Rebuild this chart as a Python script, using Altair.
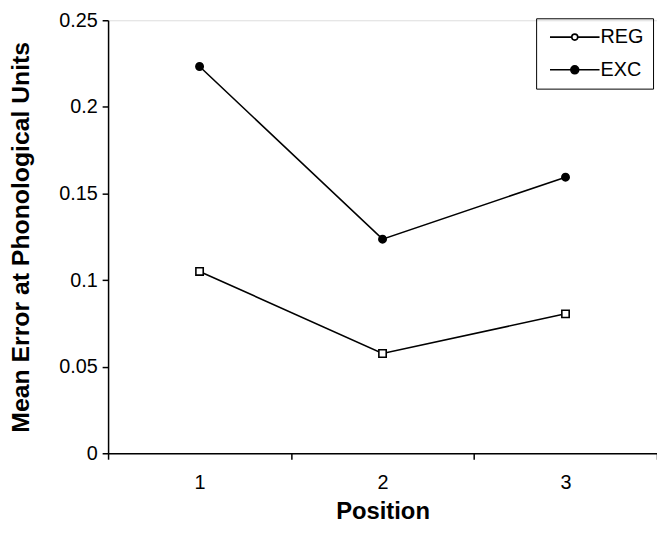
import altair as alt
import pandas as pd

positions = ["1", "2", "3"]
reg_values = [0.105, 0.0576, 0.0805]
exc_values = [0.2233, 0.1236, 0.1594]
series_names = ["REG", "EXC"]
y_ticks = [0, 0.05, 0.1, 0.15, 0.2, 0.25]

rows = []
for name, vals in zip(series_names, [reg_values, exc_values]):
    for p, v in zip(positions, vals):
        rows.append({"Position": p, "value": v, "series": name})
df = pd.DataFrame(rows)

FONT = "Liberation Sans"

x_enc = alt.X(
    "Position:O",
    sort=positions,
    scale=alt.Scale(type="band", paddingInner=0, paddingOuter=0),
    axis=alt.Axis(
        title="Position", labelAngle=0, tickBand="extent", tickSize=6,
        tickColor="black", tickWidth=1.5, domainColor="black", domainWidth=1.5,
        labelFontSize=20, labelPadding=14, labelColor="black",
        titleFontSize=24, titleFontWeight="bold", titlePadding=7,
        titleColor="black", labelFont=FONT, titleFont=FONT, grid=False,
    ),
)
y_enc = alt.Y(
    "value:Q",
    scale=alt.Scale(domain=[0, 0.25], nice=False, zero=True),
    axis=alt.Axis(
        title="Mean Error at Phonological Units", values=y_ticks, format="~g",
        tickSize=6, tickColor="black", tickWidth=1.5, domainColor="black",
        domainWidth=1.5, labelFontSize=20, labelPadding=5, labelColor="black",
        titleFontSize=25, titleFontWeight="bold", titlePadding=25,
        titleColor="black", labelFont=FONT, titleFont=FONT, grid=False,
    ),
)

lines = alt.Chart(df).mark_line(color="black", strokeWidth=1.6).encode(
    x=x_enc, y=y_enc, detail="series:N"
)

points = alt.Chart(df).mark_point(filled=False, strokeWidth=1.6, size=55, opacity=1).encode(
    x=x_enc,
    y=y_enc,
    shape=alt.Shape("series:N", scale=alt.Scale(domain=series_names, range=["square", "circle"]), legend=None),
    fill=alt.Fill("series:N", scale=alt.Scale(domain=series_names, range=["white", "black"]), legend=None),
    stroke=alt.value("black"),
)

path_reg = "M-5,0L-0.6,0M0.6,0L5,0M-0.6,0A0.6,0.6,0,1,0,0.6,0A0.6,0.6,0,1,0,-0.6,0Z"
path_exc = "M-5,0L-0.8,0M0.8,0L5,0M-0.8,0A0.8,0.8,0,1,0,0.8,0A0.8,0.8,0,1,0,-0.8,0Z"

legend = alt.Legend(
    title=None, orient="none", legendX=432, legendY=-2,
    strokeColor="black", padding=9, labelFontSize=20, labelFont=FONT,
    labelColor="black", symbolSize=100, symbolStrokeWidth=1.6,
    symbolStrokeColor="black", rowPadding=13, symbolOffset=20, labelOffset=16,
)

legend_layer = alt.Chart(df).mark_point(clip=True, filled=False, opacity=1, size=100).encode(
    x=x_enc,
    y=alt.value(-200),
    shape=alt.Shape("series:N", scale=alt.Scale(domain=series_names, range=[path_reg, path_exc]), legend=legend),
    fill=alt.Fill("series:N", scale=alt.Scale(domain=series_names, range=["white", "black"]), legend=legend),
    stroke=alt.Stroke("series:N", scale=alt.Scale(domain=series_names, range=["black", "black"]), legend=legend),
)

chart = alt.layer(lines, points, legend_layer).resolve_scale(
    shape="independent", fill="independent", stroke="independent"
).properties(
    width=554, height=437,
    autosize=alt.AutoSizeParams(type="none"),
    padding={"left": 101, "top": 10, "right": 0, "bottom": 69},
).configure_view(stroke="#333", strokeWidth=1).configure(background="white")

chart.save("out.html", embed_options={"renderer": "svg", "actions": False})
